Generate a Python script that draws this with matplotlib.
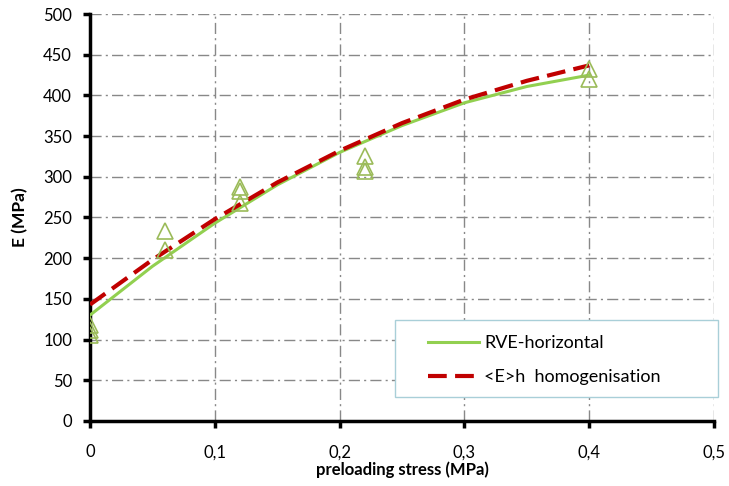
import matplotlib.pyplot as plt
from matplotlib.patches import Rectangle
import numpy as np

plt.rcParams['font.family'] = ['Lato', 'DejaVu Sans']

# measured points (triangles)
x_pts = [0, 0, 0, 0.06, 0.06, 0.12, 0.12, 0.12, 0.22, 0.22, 0.22, 0.4, 0.4]
E_pts = [118, 112, 105, 234, 210, 288, 283, 268, 326, 312, 307, 433, 420]

# fitted curves
x_fit = [0, 0.05, 0.1, 0.15, 0.2, 0.25, 0.3, 0.35, 0.4]
E_rve = [130, 190, 243, 290, 330, 363, 391, 411, 425]
E_hom = [143, 198, 248, 293, 332, 366, 395, 418, 437]

fig = plt.figure(figsize=(7.29, 4.86), dpi=100)
ax = fig.add_axes([0.1235, 0.134, 0.856, 0.837])

ax.plot(x_fit, E_rve, color='#92d050', lw=2.2, label='RVE-horizontal', zorder=3)
ax.plot(x_fit, E_hom, color='#c00000', lw=3, ls=(0, (4.5, 2)),
        label='<E>h  homogenisation', zorder=4)
ax.plot(x_pts, E_pts, ls='none', marker='^', ms=11, mfc='none',
        mec='#9bbb59', mew=1.2, zorder=5)

ax.set_xlim(0, 0.5)
ax.set_ylim(0, 500)
ax.set_xticks(np.arange(0, 0.51, 0.1))
ax.set_xticklabels(['0', '0,1', '0,2', '0,3', '0,4', '0,5'])
ax.set_yticks(range(0, 501, 50))
ax.grid(True, color='#888888', ls=(0, (8, 3, 1.5, 3)), lw=1)
ax.set_axisbelow(True)

for s in ['top', 'right']:
    ax.spines[s].set_visible(False)
for s in ['left', 'bottom']:
    ax.spines[s].set_linewidth(2.5)
ax.tick_params(length=5, width=2.5, labelsize=12)
ax.tick_params(axis='x', pad=12)
ax.tick_params(axis='y', pad=8)
ax.set_xlabel('preloading stress (MPa)', fontsize=12, fontweight='bold', labelpad=1)
ax.set_ylabel('E (MPa)', fontsize=12.5, fontweight='bold', labelpad=11)

# legend box
ax.add_patch(Rectangle((0.489, 0.059), 0.518, 0.189, transform=ax.transAxes,
                       facecolor='white', edgecolor='#a9cfd8', lw=1,
                       clip_on=False, zorder=6))
leg = ax.legend(loc='center left', bbox_to_anchor=(0.5417, 0.15),
                fontsize=13, frameon=False, borderpad=0, borderaxespad=0,
                handlelength=2.8, labelspacing=1.0, handletextpad=0.3)
leg.set_zorder(7)

fig.savefig('out.png')
